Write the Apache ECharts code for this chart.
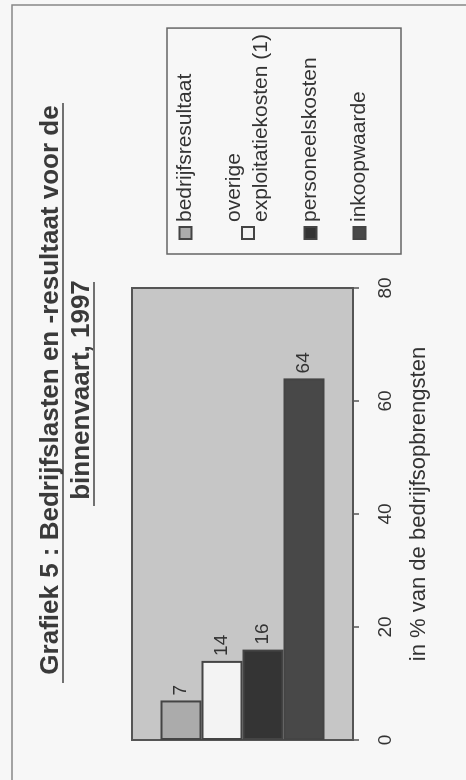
<!DOCTYPE html>
<html>
<head>
<meta charset="utf-8">
<script src="https://cdn.jsdelivr.net/npm/echarts@6/dist/echarts.min.js"></script>
<style>
  html, body { margin: 0; padding: 0; width: 466px; height: 780px; overflow: hidden; background: #f7f7f7; }
  #chart { position: absolute; left: 0; top: 0; width: 780px; height: 466px;
           transform-origin: 0 0; transform: translateY(780px) rotate(-90deg); }
</style>
</head>
<body>
<div id="chart"></div>
<script>
// ---- data ----
const titleLines = ['Grafiek 5 : Bedrijfslasten en -resultaat voor de', 'binnenvaart, 1997'];
const categories = ['bedrijfsresultaat', 'overige exploitatiekosten (1)', 'personeelskosten', 'inkoopwaarde'];
const values = [7, 14, 16, 64];
const valueTicks = [0, 20, 40, 60, 80];
const axisTitle = 'in % van de bedrijfsopbrengsten';

// ---- styles ----
const fills = ['#ababab', '#f3f3f3', '#343434', '#484848'];
const FONT = 'Liberation Sans, Arial, sans-serif';
const TXT = '#333';

const chart = echarts.init(document.getElementById('chart'), null, { width: 780, height: 466, renderer: 'canvas' });

const series = categories.map((name, i) => ({
  type: 'bar',
  name: name,
  data: [values[i]],
  barWidth: 41,
  barGap: '0%',
  itemStyle: { color: fills[i], borderColor: '#444', borderWidth: 2 },
  label: { show: true, position: 'right', distance: 5, fontSize: 19, color: TXT, fontFamily: FONT },
  emphasis: { disabled: true },
  animation: false
}));

chart.setOption({
  animation: false,
  backgroundColor: '#f7f7f7',
  title: {
    text: titleLines.join('\n'),
    left: 'center',
    top: 35,
    padding: 0,
    textStyle: { fontSize: 26, fontWeight: 'bold', fontFamily: FONT, color: '#3a3a3a', lineHeight: 31 }
  },
  legend: {
    orient: 'vertical',
    left: 526,
    top: 167,
    icon: 'rect',
    itemWidth: 12,
    itemHeight: 12,
    itemGap: 22,
    padding: [5, 6, 28, 14],
    borderColor: '#666',
    borderWidth: 1.5,
    selectedMode: false,
    textStyle: { fontSize: 21, lineHeight: 27, color: TXT, fontFamily: FONT },
    formatter: function (name) { return name.replace('overige ', 'overige\n'); },
    data: categories
  },
  grid: {
    show: true,
    left: 40, top: 132, width: 452, height: 221,
    backgroundColor: '#c6c6c6',
    borderColor: '#555',
    borderWidth: 2,
    outerBoundsMode: 'none'
  },
  xAxis: {
    type: 'value',
    min: valueTicks[0],
    max: valueTicks[valueTicks.length - 1],
    interval: valueTicks[1] - valueTicks[0],
    name: axisTitle,
    nameLocation: 'middle',
    nameGap: 55,
    nameTextStyle: { fontSize: 22, color: TXT, fontFamily: FONT, padding: [0, 0, 0, 20] },
    axisLine: { show: true, lineStyle: { color: '#555', width: 2 } },
    axisTick: { show: true, length: 6, lineStyle: { color: '#555', width: 1.5 } },
    axisLabel: { margin: 23, fontSize: 19, color: TXT, fontFamily: FONT },
    splitLine: { show: false }
  },
  yAxis: {
    type: 'category',
    data: ['1997'],
    show: false
  },
  graphic: [
    { type: 'rect', silent: true, shape: { x: -5, y: 12, width: 780, height: 470 },
      style: { fill: null, stroke: '#888', lineWidth: 1.5 } },
    { type: 'line', silent: true, shape: { x1: 97, y1: 63, x2: 677, y2: 63 },
      style: { stroke: '#444', lineWidth: 1.5 } },
    { type: 'line', silent: true, shape: { x1: 274, y1: 94, x2: 498, y2: 94 },
      style: { stroke: '#444', lineWidth: 1.5 } }
  ],
  series: series
});
</script>
</body>
</html>
